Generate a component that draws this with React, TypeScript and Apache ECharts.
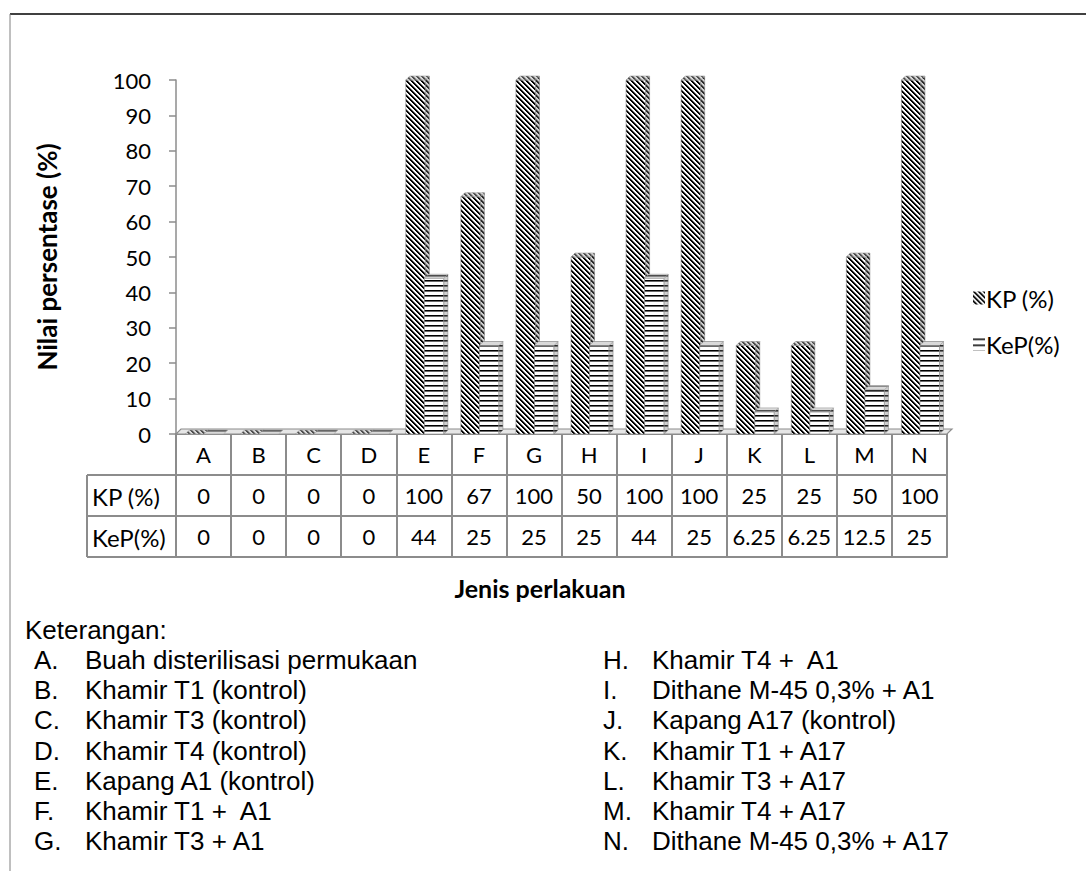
import React, { useEffect, useRef } from 'react';
import * as echarts from 'echarts';

const categories = ['A', 'B', 'C', 'D', 'E', 'F', 'G', 'H', 'I', 'J', 'K', 'L', 'M', 'N'];
const kpValues = [0, 0, 0, 0, 100, 67, 100, 50, 100, 100, 25, 25, 50, 100];
const kepValues = [0, 0, 0, 0, 44, 25, 25, 25, 44, 25, 6.25, 6.25, 12.5, 25];
const seriesNames = ['KP (%)', 'KeP(%)'];
const rowLabels = ['KP (%)', 'KeP(%)'];
const yAxisTitle = 'Nilai persentase (%)';
const xAxisTitle = 'Jenis perlakuan';
const notesTitle = 'Keterangan:';
const notesLeft = [
  ['A.', 'Buah disterilisasi permukaan'],
  ['B.', 'Khamir T1 (kontrol)'],
  ['C.', 'Khamir T3 (kontrol)'],
  ['D.', 'Khamir T4 (kontrol)'],
  ['E.', 'Kapang A1 (kontrol)'],
  ['F.', 'Khamir T1 +  A1'],
  ['G.', 'Khamir T3 + A1'],
];
const notesRight = [
  ['H.', 'Khamir T4 +  A1'],
  ['I.', 'Dithane M-45 0,3% + A1'],
  ['J.', 'Kapang A17 (kontrol)'],
  ['K.', 'Khamir T1 + A17'],
  ['L.', 'Khamir T3 + A17'],
  ['M.', 'Khamir T4 + A17'],
  ['N.', 'Dithane M-45 0,3% + A17'],
];

const FONT = 'Lato, "Open Sans", sans-serif';
const ARIAL = '"Liberation Sans", Arial, sans-serif';
const GRID_LINE = '#8c8c8c';
const DEPTH = 4;
const NOTE_SIZE = 26;

function makeDiagonal(): HTMLCanvasElement {
  const s = 5;
  const c = document.createElement('canvas');
  c.width = s;
  c.height = s;
  const ctx = c.getContext('2d')!;
  for (let y = 0; y < s; y++) {
    for (let x = 0; x < s; x++) {
      const k = (((x - y) % s) + s) % s;
      ctx.fillStyle = k < 2 ? '#000000' : k === 2 ? '#8a8a8a' : '#ffffff';
      ctx.fillRect(x, y, 1, 1);
    }
  }
  return c;
}

function makeHorizontal(): HTMLCanvasElement {
  const s = 5;
  const c = document.createElement('canvas');
  c.width = s;
  c.height = s;
  const ctx = c.getContext('2d')!;
  for (let y = 0; y < s; y++) {
    ctx.fillStyle = y === 0 ? '#000000' : y === 1 ? '#6a6a6a' : '#ffffff';
    ctx.fillRect(0, y, s, 1);
  }
  return c;
}

function makeLegendHorizontal(): HTMLCanvasElement {
  const s = 6;
  const c = document.createElement('canvas');
  c.width = s;
  c.height = s;
  const ctx = c.getContext('2d')!;
  for (let y = 0; y < s; y++) {
    ctx.fillStyle = y === 1 ? '#000000' : y === 2 ? '#7a7a7a' : '#ffffff';
    ctx.fillRect(0, y, s, 1);
  }
  return c;
}

function pattern(c: HTMLCanvasElement) {
  return { image: c, repeat: 'repeat', imageWidth: c.width, imageHeight: c.height } as any;
}

function barRenderer(fill: any, offFrac: number, wFrac: number) {
  return (params: any, api: any) => {
    const idx = api.value(0);
    const v = api.value(1);
    const p0 = api.coord([idx, 0]);
    const p1 = api.coord([idx, v]);
    const band = api.size([1, 0])[0];
    const xl = p0[0] - band / 2 + band * offFrac;
    const xr = xl + band * wFrac;
    const yb = p0[1];
    const yt = p1[1];
    const d = DEPTH;
    const children: any[] = [];
    if (yb - yt > 0.5) {
      children.push({
        type: 'rect',
        shape: { x: xl, y: yt, width: xr - xl, height: yb - yt },
        style: { fill, stroke: '#8a8a8a', lineWidth: 0.6 },
      });
      children.push({
        type: 'polygon',
        shape: { points: [[xr, yb], [xr + d, yb - d], [xr + d, yt - d], [xr, yt]] },
        style: { fill, stroke: '#8a8a8a', lineWidth: 0.6 },
      });
      children.push({
        type: 'polygon',
        shape: { points: [[xr, yb], [xr + d, yb - d], [xr + d, yt - d], [xr, yt]] },
        style: { fill: 'rgba(120,120,120,0.35)' },
      });
    }
    children.push({
      type: 'polygon',
      shape: { points: [[xl, yt], [xr, yt], [xr + d, yt - d], [xl + d, yt - d]] },
      style: { fill, stroke: '#9a9a9a', lineWidth: 0.6 },
    });
    children.push({
      type: 'polygon',
      shape: { points: [[xl, yt], [xr, yt], [xr + d, yt - d], [xl + d, yt - d]] },
      style: { fill: 'rgba(170,170,170,0.45)' },
    });
    return { type: 'group', children };
  };
}

function floorRenderer(params: any, api: any) {
  const band = api.size([1, 0])[0];
  const a = api.coord([0, 0]);
  const b = api.coord([categories.length - 1, 0]);
  const xL = a[0] - band / 2;
  const xR = b[0] + band / 2;
  const y = a[1];
  const d = DEPTH + 1;
  return {
    type: 'group',
    children: [
      {
        type: 'polygon',
        shape: { points: [[xL, y], [xR, y], [xR + d, y - d], [xL + d, y - d]] },
        style: { fill: '#e6e6e6', stroke: '#8c8c8c', lineWidth: 1.2 },
      },
    ],
  };
}

export default function App() {
  const ref = useRef<HTMLDivElement>(null);
  useEffect(() => {
    const chart = echarts.init(ref.current!, null, { renderer: 'svg' });
    const diag = pattern(makeDiagonal());
    const horiz = pattern(makeHorizontal());
    const legendHoriz = pattern(makeLegendHorizontal());

    const baseX = {
      type: 'category',
      gridIndex: 0,
      position: 'bottom',
      boundaryGap: true,
      splitLine: { show: false },
    };

    const graphics: any[] = [];
    // outer frame
    graphics.push({ type: 'line', shape: { x1: 10, y1: 14, x2: 1086, y2: 14 }, style: { stroke: '#404040', lineWidth: 2 } });
    graphics.push({ type: 'line', shape: { x1: 10, y1: 14, x2: 10, y2: 871 }, style: { stroke: '#808080', lineWidth: 1 } });
    // table row-label column
    const lx0 = 87, lx1 = 176;
    [475, 516, 557].forEach((y) => {
      graphics.push({ type: 'line', shape: { x1: lx0, y1: y, x2: lx1, y2: y }, style: { stroke: GRID_LINE, lineWidth: 2 } });
    });
    graphics.push({ type: 'line', shape: { x1: lx0, y1: 475, x2: lx0, y2: 557 }, style: { stroke: GRID_LINE, lineWidth: 2 } });
    rowLabels.forEach((t, i) => {
      graphics.push({
        type: 'text', x: 92, y: 496 + i * 41,
        style: { text: t, fontSize: 24, fontFamily: FONT, fill: '#000', align: 'left', verticalAlign: 'middle' },
      });
    });
    // x axis title
    graphics.push({
      type: 'text', x: 540, y: 588,
      style: { text: xAxisTitle, fontSize: 25, fontWeight: 'bold', fontFamily: FONT, fill: '#000', align: 'center', verticalAlign: 'middle' },
    });
    // notes
    graphics.push({
      type: 'text', x: 25, y: 630,
      style: { text: notesTitle, fontSize: NOTE_SIZE, fontFamily: ARIAL, fill: '#000', verticalAlign: 'middle' },
    });
    notesLeft.forEach(([k, t], i) => {
      const y = 660 + i * 30.2;
      graphics.push({ type: 'text', x: 34, y, style: { text: k, fontSize: NOTE_SIZE, fontFamily: ARIAL, fill: '#000', verticalAlign: 'middle' } });
      graphics.push({ type: 'text', x: 85, y, style: { text: t, fontSize: NOTE_SIZE, fontFamily: ARIAL, fill: '#000', verticalAlign: 'middle' } });
    });
    notesRight.forEach(([k, t], i) => {
      const y = 660 + i * 30.2;
      graphics.push({ type: 'text', x: 603, y, style: { text: k, fontSize: NOTE_SIZE, fontFamily: ARIAL, fill: '#000', verticalAlign: 'middle' } });
      graphics.push({ type: 'text', x: 652, y, style: { text: t, fontSize: NOTE_SIZE, fontFamily: ARIAL, fill: '#000', verticalAlign: 'middle' } });
    });

    const option: any = {
      animation: false,
      backgroundColor: '#ffffff',
      textStyle: { fontFamily: FONT },
      grid: { left: 176, right: 139, top: 80, bottom: 437, containLabel: false },
      legend: {
        data: [
          { name: seriesNames[0], itemStyle: { color: diag } },
          { name: seriesNames[1], itemStyle: { color: legendHoriz } },
        ],
        orient: 'vertical',
        left: 968,
        top: 281,
        icon: 'rect',
        itemWidth: 12,
        itemHeight: 13,
        itemGap: 22,
        selectedMode: false,
        textStyle: { fontSize: 24, fontFamily: FONT, color: '#000', padding: [0, 0, 0, -4] },
      },
      xAxis: [
        {
          ...baseX,
          data: categories,
          offset: 0,
          axisLine: { show: true, lineStyle: { color: GRID_LINE, width: 2 } },
          axisTick: { show: true, inside: false, length: 123, lineStyle: { color: GRID_LINE, width: 2 } },
          axisLabel: { show: true, margin: 9, fontSize: 22, fontFamily: FONT, color: '#000', interval: 0 },
        },
        {
          ...baseX,
          data: kpValues.map((v) => String(v)),
          offset: 41,
          axisLine: { show: true, lineStyle: { color: GRID_LINE, width: 2 } },
          axisTick: { show: false },
          axisLabel: { show: true, margin: 9, fontSize: 22, fontFamily: FONT, color: '#000', interval: 0 },
        },
        {
          ...baseX,
          data: kepValues.map((v) => String(v)),
          offset: 82,
          axisLine: { show: true, lineStyle: { color: GRID_LINE, width: 2 } },
          axisTick: { show: false },
          axisLabel: { show: true, margin: 9, fontSize: 22, fontFamily: FONT, color: '#000', interval: 0 },
        },
        {
          ...baseX,
          data: categories,
          offset: 123,
          axisLine: { show: true, lineStyle: { color: GRID_LINE, width: 2 } },
          axisTick: { show: false },
          axisLabel: { show: false },
        },
      ],
      yAxis: {
        type: 'value',
        min: 0,
        max: 100,
        interval: 10,
        axisLine: { show: true, lineStyle: { color: GRID_LINE, width: 1.5 } },
        axisTick: { show: true, inside: false, length: 7, lineStyle: { color: GRID_LINE, width: 1.5 } },
        splitLine: { show: false },
        axisLabel: { margin: 25, fontSize: 22, fontFamily: FONT, color: '#000' },
        name: yAxisTitle,
        nameLocation: 'middle',
        nameGap: 116,
        nameRotate: 90,
        nameTextStyle: { fontSize: 26, fontWeight: 'bold', fontFamily: FONT, color: '#000' },
      },
      series: [
        {
          name: 'floor',
          type: 'custom',
          xAxisIndex: 0,
          yAxisIndex: 0,
          renderItem: floorRenderer,
          data: [[0, 0]],
          z: 1,
          silent: true,
        },
        {
          name: seriesNames[0],
          type: 'custom',
          xAxisIndex: 0,
          yAxisIndex: 0,
          itemStyle: { color: diag },
          renderItem: barRenderer(diag, 9.5 / 55, 19.5 / 55),
          data: kpValues.map((v, i) => [i, v]),
          z: 2,
        },
        {
          name: seriesNames[1],
          type: 'custom',
          xAxisIndex: 0,
          yAxisIndex: 0,
          itemStyle: { color: horiz },
          renderItem: barRenderer(horiz, 28 / 55, 19.5 / 55),
          data: kepValues.map((v, i) => [i, v]),
          z: 3,
        },
      ],
      graphic: graphics,
    };
    chart.setOption(option);
    return () => chart.dispose();
  }, []);
  return (
    <div
      ref={ref}
      style={{ position: 'fixed', left: 0, top: 0, width: 1086, height: 871, background: '#fff' }}
    />
  );
}
